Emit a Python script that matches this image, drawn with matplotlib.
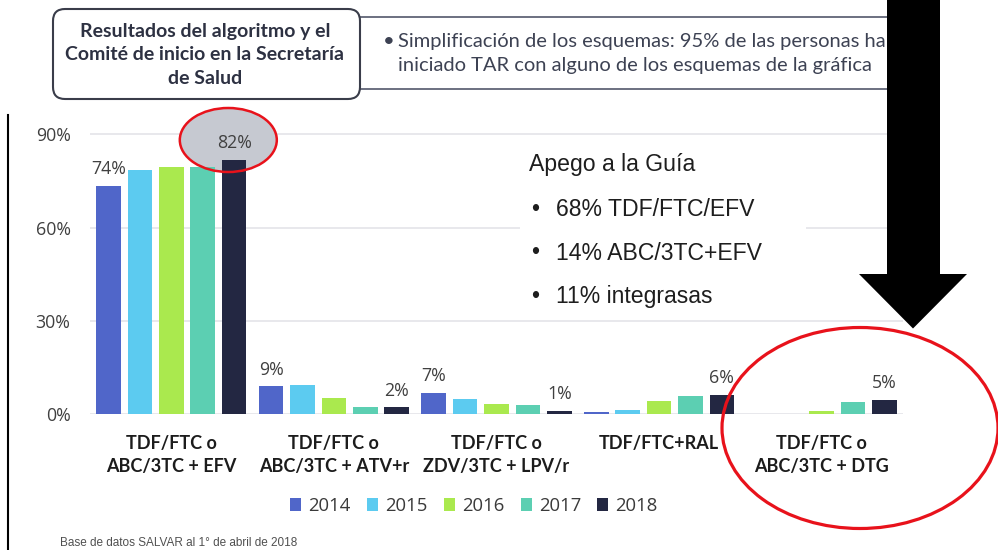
import matplotlib
matplotlib.use("Agg")
import matplotlib.pyplot as plt
import numpy as np
from matplotlib.patches import Ellipse, Rectangle, Polygon, FancyBboxPatch
from matplotlib.transforms import Affine2D

# ---------------- data ----------------
categories = ["TDF/FTC o\nABC/3TC + EFV", "TDF/FTC o\nABC/3TC + ATV+r",
              "TDF/FTC o\nZDV/3TC + LPV/r", "TDF/FTC+RAL", "TDF/FTC o\nABC/3TC + DTG"]
years = ["2014", "2015", "2016", "2017", "2018"]
v2014 = [73.4, 9.0, 6.9, 0.6, 0.0]
v2015 = [78.5, 9.5, 5.0, 1.4, 0.0]
v2016 = [79.6, 5.1, 3.4, 4.3, 1.2]
v2017 = [79.4, 2.4, 2.9, 5.8, 4.1]
v2018 = [81.7, 2.2, 1.2, 6.2, 4.6]
series = [v2014, v2015, v2016, v2017, v2018]
colors = ["#5066c9", "#5ccbf0", "#aae94e", "#5ccfb2", "#232742"]
yticks = [0, 30, 60, 90]
ytick_labels = ["0%", "30%", "60%", "90%"]
# labelled bars: (category index, series index, text)
labels_cat = [0, 0, 1, 1, 2, 2, 3, 4]
labels_ser = [0, 4, 0, 4, 0, 4, 4, 4]
labels_txt = ["74%", "82%", "9%", "2%", "7%", "1%", "6%", "5%"]
title_lines = ["Resultados del algoritmo y el", "Comité de inicio en la Secretaría", "de Salud"]
note_line1 = "Simplificación de los esquemas: 95% de las personas han"
note_line2 = "iniciado TAR con alguno de los esquemas de la gráfica"
apego_title = "Apego a la Guía"
apego_items = ["68% TDF/FTC/EFV", "14% ABC/3TC+EFV", "11% integrasas"]
footer = "Base de datos SALVAR al 1° de abril de 2018"

W, H = 998, 550
fig = plt.figure(figsize=(W / 100, H / 100), dpi=100)
fig.patch.set_facecolor("white")
PX = Affine2D().scale(1 / W, -1 / H).translate(0, 1) + fig.transFigure

ppu = 280 / 90.0
ymax = 95
ax = fig.add_axes([90 / W, (H - 414.3) / H, 813 / W, ymax * ppu / H])
ax.set_xlim(-0.5, 4.5)
ax.set_ylim(0, ymax)
for s in ax.spines.values():
    s.set_visible(False)
ax.set_axisbelow(True)
ax.yaxis.grid(True, color="#e6e6ea", lw=1.3)
ax.set_yticks(yticks)
ax.set_yticklabels(ytick_labels, fontfamily="Open Sans", fontsize=12.8, color="#404040")
ax.tick_params(axis="y", length=0, pad=14)
ax.set_xticks(range(len(categories)))
ax.set_xticklabels(categories, fontfamily="Lato", fontweight="bold", fontsize=13,
                   color="#1c1c1c", linespacing=1.45)
ax.tick_params(axis="x", length=0, pad=15)

x = np.arange(len(categories))
pitch, bw = 0.193, 0.151
bars = []
for j, (vals, c, yr) in enumerate(zip(series, colors, years)):
    b = ax.bar(x + (j - 2) * pitch, vals, bw, color=c, label=yr, zorder=2)
    bars.append(b)

for ci, si, t in zip(labels_cat, labels_ser, labels_txt):
    ax.annotate(t, (x[ci] + (si - 2) * pitch, series[si][ci]), xytext=(0, 8.4),
                textcoords="offset points", ha="center", va="baseline",
                fontfamily="Open Sans", fontsize=12.8, color="#404040", zorder=5,
                annotation_clip=False)

# gray highlight behind 82%
ax.add_patch(Ellipse((228.3, 140), 97, 64, transform=PX, facecolor="#c6c9d1",
                     edgecolor="none", zorder=1, clip_on=False))
ax.add_patch(Ellipse((228.3, 140), 97, 64, transform=PX, facecolor="none",
                     edgecolor="#e8121b", lw=1.8, zorder=3, clip_on=False))
# white box behind "Apego" text
ax.add_patch(Rectangle((520, 140), 286, 176, transform=PX, facecolor="white",
                       edgecolor="none", zorder=1, clip_on=False))

leg = fig.legend(handles=bars, labels=years, loc="center", ncol=5,
                 bbox_to_anchor=(474 / W, 1 - 506 / H), frameon=False,
                 prop={"family": "Open Sans", "size": 13.3},
                 handlelength=0.6, handleheight=0.72, handletextpad=0.38,
                 columnspacing=0.88)
for t in leg.get_texts():
    t.set_color("#3a3a3a")

# ---------------- overlay ----------------
ov = fig.add_axes([0, 0, 1, 1], zorder=10)
ov.set_xlim(0, W)
ov.set_ylim(H, 0)
ov.axis("off")
ov.patch.set_alpha(0)

# right note box
ov.add_patch(Rectangle((359, 17.3), 540, 72, facecolor="white", edgecolor="#6b7080", lw=1.4, zorder=1))
# left title box
ov.add_patch(FancyBboxPatch((53 + 12, 9 + 12), 307 - 24, 90 - 24,
                            boxstyle="round,pad=12", facecolor="white",
                            edgecolor="#3a3d4a", lw=1.5, zorder=2))
for k, line in enumerate(title_lines):
    ov.text(205, 31 + k * 23.5, line, ha="center", va="center", fontfamily="Lato",
            fontweight="bold", fontsize=14, color="#2d3142", zorder=3)
ov.text(383, 41.7, "•", ha="left", va="center", fontfamily="Lato", fontsize=14.5,
        color="#3d4253", zorder=3)
ov.text(398, 41.7, note_line1, ha="left", va="center", fontfamily="Lato",
        fontsize=14.5, color="#3d4253", zorder=3)
ov.text(398, 65, note_line2, ha="left", va="center", fontfamily="Lato",
        fontsize=14.5, color="#3d4253", zorder=3)

# Apego text
ov.text(529, 165, apego_title, ha="left", va="center", fontfamily="Liberation Sans",
        fontsize=16.6, color="#1e1e1e")
for k, item in enumerate(apego_items):
    yy = 209.3 + k * 43.7
    ov.text(531, yy, "•", ha="left", va="center", fontfamily="Liberation Sans",
            fontsize=16.6, color="#1e1e1e")
    ov.text(556, yy, item, ha="left", va="center", fontfamily="Liberation Sans",
            fontsize=16.6, color="#1e1e1e")

# black arrow
ov.add_patch(Polygon([(887, -2), (940, -2), (940, 274), (967, 274), (913, 328.5),
                      (859, 274), (887, 274)], closed=True, facecolor="black",
                     edgecolor="none", zorder=6))
# big red ellipse
ov.add_patch(Ellipse((860, 428), 276, 201, facecolor="none", edgecolor="#e8121b",
                     lw=2.3, zorder=7, clip_on=False))
# left vertical line
ov.plot([8.3, 8.3], [115, 552], color="black", lw=1.5)
# footer
ov.text(60, 543, footer, ha="left", va="center", fontfamily="Liberation Sans",
        fontsize=8.5, color="#505050")

fig.savefig("out.png", dpi=100)
